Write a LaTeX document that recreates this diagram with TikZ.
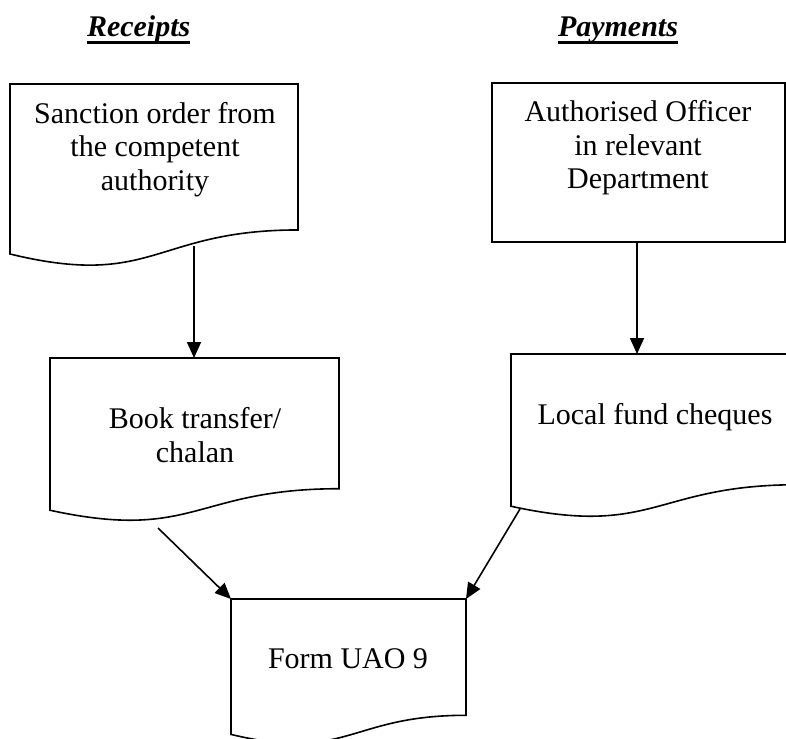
\documentclass[tikz,border=0pt]{standalone}
\usepackage{fontspec}
\setmainfont{Liberation Serif}
\usetikzlibrary{calc,arrows.meta}

\tikzset{
  boxline/.style={draw=black, line width=1.6pt, line join=miter},
  boxarea/.style={draw=none, inner sep=0pt, outer sep=0pt, shape=rectangle},
  plainbox/.style={boxline, inner sep=0pt, outer sep=0pt, shape=rectangle},
  label/.style={inner sep=0pt, outer sep=0pt, align=center,
    font=\fontsize{30}{33.5}\selectfont},
  heading/.style={inner sep=0pt, outer sep=0pt,
    font=\fontsize{30}{33.5}\selectfont\bfseries\itshape},
  underbar/.style={line width=3pt},
  flow/.style={line width=1.6pt, -{Triangle[length=16pt,width=14pt]}}
}

% document-shaped box: name, left, top, width, total height
\newcommand{\docbox}[5]{%
  \node[boxarea, minimum width=#4pt, minimum height={0.802*#5pt},
        anchor=north west] (#1) at (#2,#3) {};
  \draw[boxline] ($(#1.south west)+(0,{0.132*#5})$) -- (#1.north west)
    -- (#1.north east) -- (#1.south east)
    .. controls (#1.south) and ($(#1.south)+(0,{0.325*#5})$)
    .. ($(#1.south west)+(0,{0.132*#5})$) -- cycle;
}

\begin{document}
\begin{tikzpicture}[x=1pt, y=-1pt]
  \useasboundingbox (0,0) rectangle (786,738);
  \clip (0,0) rectangle (786,738);

  % column headings
  \node[heading, anchor=base west] (rc) at (87,37) {Receipts};
  \node[heading, anchor=base west] (py) at (558,37) {Payments};
  \draw[underbar] ([yshift=-6pt]rc.base west) -- ([yshift=-6pt]rc.base east);
  \draw[underbar] ([yshift=-6pt]py.base west) -- ([yshift=-6pt]py.base east);

  % boxes
  \docbox{b1}{10}{84}{288}{182}
  \node[plainbox, minimum width=293pt, minimum height=159pt,
        anchor=north west] (b2) at (492,83) {};
  \docbox{b3}{50}{358}{289}{163}
  \docbox{b4}{511}{354}{287}{163}
  \docbox{b5}{231}{599}{235}{145}

  % box texts
  \node[label] (t1) at (155,149.5) {Sanction order from\\the competent\\authority};
  \node[label] (t2) at (638,148) {Authorised Officer\\in relevant\\Department};
  \node[label] (t3) at (195,435) {Book transfer/\\chalan};
  \node[label] (t4) at (655,417) {Local fund cheques};
  \node[label] (t5) at (348,659) {Form UAO 9};

  % connectors
  \coordinate (a1) at (194,246);
  \coordinate (a2) at (637,0);
  \coordinate (a3) at (158,528);
  \coordinate (a4) at (520,509);
  \draw[flow] (a1) -- (b3.north -| a1);
  \draw[flow] (b2.south -| a2) -- (b4.north -| a2);
  \draw[flow] (a3) -- (b5.north west);
  \draw[flow] (a4) -- (b5.north east);
\end{tikzpicture}
\end{document}
